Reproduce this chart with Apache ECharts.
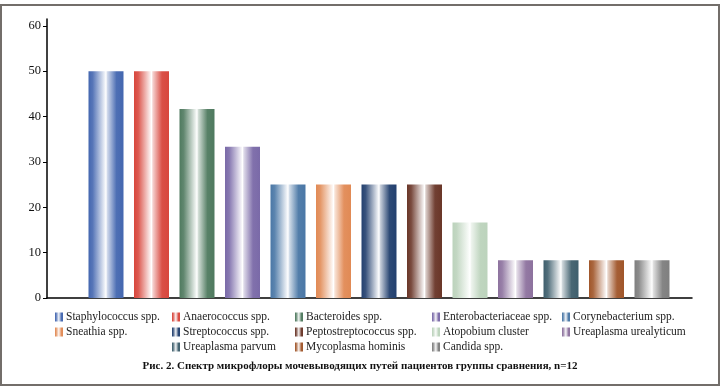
<!DOCTYPE html>
<html><head><meta charset="utf-8">
<script src="https://cdn.jsdelivr.net/npm/echarts@6/dist/echarts.min.js"></script>
<style>html,body{margin:0;padding:0;background:#fff}#c{width:720px;height:389px}</style>
</head><body><div id="c"></div>
<script>
const names = ["Staphylococcus spp.","Anaerococcus spp.","Bacteroides spp.","Enterobacteriaceae spp.","Corynebacterium spp.","Sneathia spp.","Streptococcus spp.","Peptostreptococcus spp.","Atopobium cluster","Ureaplasma urealyticum","Ureaplasma parvum","Mycoplasma hominis","Candida spp."];
const values = [50,50,41.67,33.33,25,25,25,25,16.67,8.33,8.33,8.33,8.33];
const colors = ["#4467b0","#d8473d","#4f7a5f","#7a6aa8","#4a77a6","#e18a55","#23406f","#6a3628","#bcd3bc","#8d729e","#3f5f6d","#a0562a","#7f7f7f"];
const yTicks = [0,10,20,30,40,50,60];
const title = "Рис. 2. Спектр микрофлоры мочевыводящих путей пациентов группы сравнения, n=12";
const legendCols = [[0,5],[1,6,10],[2,7,11],[3,8,12],[4,9]];
const legendX = [55,172,295,432,562];

function mix(hex, t){
  const n=parseInt(hex.slice(1),16);const r=n>>16,g=(n>>8)&255,b=n&255;
  const f=c=>Math.round(c+(255-c)*t);
  return 'rgb('+f(r)+','+f(g)+','+f(b)+')';
}
function grad(c){
  return new echarts.graphic.LinearGradient(0,0,1,0,[
    {offset:0,color:c},{offset:0.12,color:mix(c,0.1)},{offset:0.46,color:mix(c,0.9)},
    {offset:0.5,color:'#ffffff'},{offset:0.54,color:mix(c,0.75)},{offset:0.8,color:mix(c,0.05)},{offset:1,color:c}]);
}
const font = '"Liberation Serif","Times New Roman",serif';
const chart = echarts.init(document.getElementById('c'));
const series = names.map((n,i)=>({
  name:n,type:'bar',xAxisIndex:1,yAxisIndex:1,barWidth:35,barGap:'30%',
  data:[values[i]],itemStyle:{color:grad(colors[i])},emphasis:{disabled:true}
}));
chart.setOption({
  animation:false,
  textStyle:{fontFamily:font},
  grid:[{left:47,right:28,top:19,bottom:91},{left:47,right:9,top:19,bottom:91}],
  xAxis:[
    {type:'category',gridIndex:0,data:[''],axisLine:{lineStyle:{color:'#000',width:1.5}},axisTick:{show:false},axisLabel:{show:false}},
    {type:'category',gridIndex:1,data:[''],show:false}
  ],
  yAxis:[
    {type:'value',gridIndex:0,min:0,max:61.5,interval:10,splitLine:{show:false},
     axisLine:{show:true,lineStyle:{color:'#000',width:1.5}},
     axisTick:{show:true,length:4,customValues:yTicks,lineStyle:{color:'#000'}},
     axisLabel:{customValues:yTicks,color:'#111',fontSize:12.5,fontFamily:font,margin:6}},
    {type:'value',gridIndex:1,min:0,max:61.5,show:false,splitLine:{show:false}}
  ],
  legend: legendCols.map((col,k)=>({
    orient:'vertical',left:legendX[k],top:311,padding:0,icon:'rect',itemWidth:8,itemHeight:9,itemGap:3,
    data:col.map(i=>names[i]),selectedMode:false,
    textStyle:{fontFamily:font,fontSize:11.5,color:'#222',padding:[0,0,0,-2]}
  })),
  series:series,
  graphic:[
    {type:'rect',shape:{x:1,y:5,width:718,height:380},style:{fill:'none',stroke:'#736e6a',lineWidth:2},silent:true},
    {type:'text',left:'center',top:361,style:{text:title,font:'bold 11px '+font,fill:'#111'}}
  ]
});
</script></body></html>
